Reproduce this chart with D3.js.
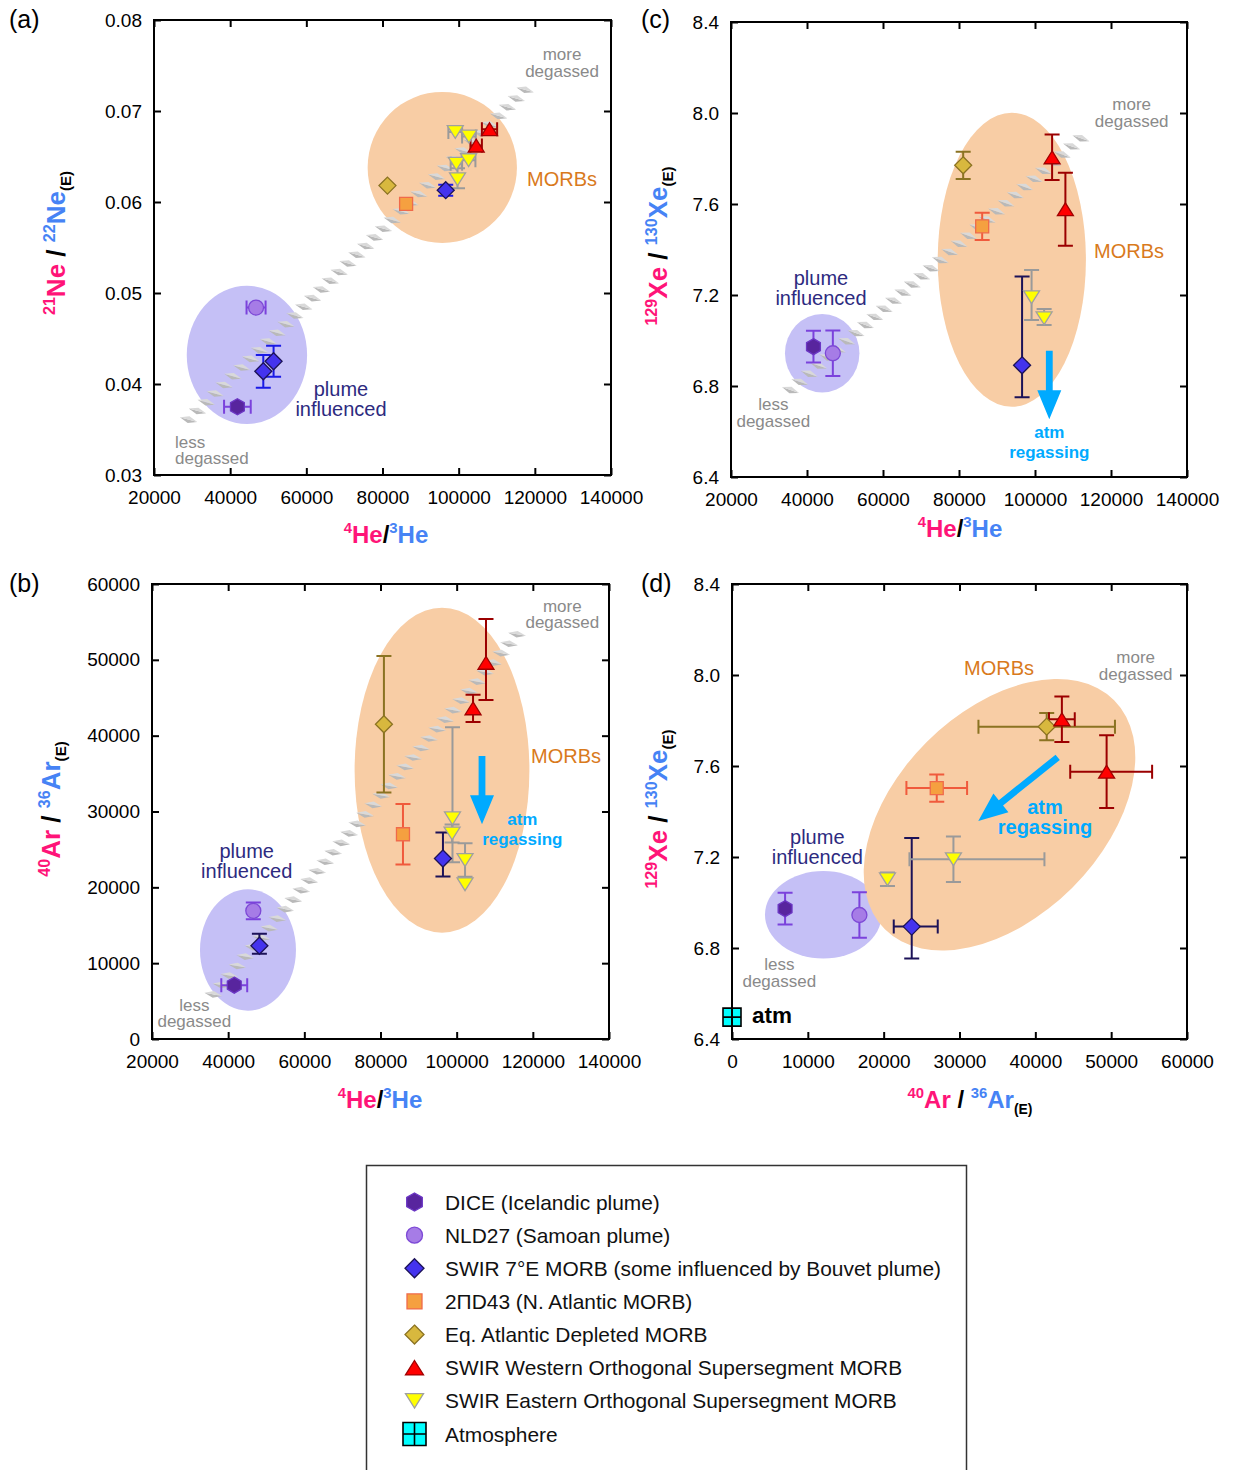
<!DOCTYPE html>
<html>
<head>
<meta charset="utf-8">
<script src="https://cdn.jsdelivr.net/npm/d3@7"></script>
<style>
  body { margin: 0; background: #fff; }
  svg { display: block; font-family: 'Liberation Sans', Arial, Helvetica, sans-serif; }
</style>
</head>
<body>
<svg id="chart" width="1233" height="1470"></svg>
<script>
// ---- tick values ----
const heTicks = [20000, 40000, 60000, 80000, 100000, 120000, 140000];
const neTicks = [0.03, 0.04, 0.05, 0.06, 0.07, 0.08];
const arTicks = [0, 10000, 20000, 30000, 40000, 50000, 60000];
const xeTicks = [6.4, 6.8, 7.2, 7.6, 8.0, 8.4];

// ---- series (index used in the point arrays) ----
const seriesNames = [
  'DICE (Icelandic plume)',
  'NLD27 (Samoan plume)',
  'SWIR 7°E MORB (some influenced by Bouvet plume)',
  '2ΠD43 (N. Atlantic MORB)',
  'Eq. Atlantic Depleted MORB',
  'SWIR Western Orthogonal Supersegment MORB',
  'SWIR Eastern Orthogonal Supersegment MORB',
  'Atmosphere'
];

// ---- points: s = series, ex/ey = [minus, plus] errors ----
// (a) 21Ne/22Ne(E) vs 4He/3He
const neVsHe = [
  {s: 0, x: 41900, y: 0.0375, ex: [3500, 3500]},
  {s: 1, x: 46800, y: 0.0484, ex: [2500, 2500]},
  {s: 2, x: 48700, y: 0.0414, ey: [0.0018, 0.0018]},
  {s: 2, x: 51400, y: 0.0425, ey: [0.0017, 0.0017]},
  {s: 2, x: 96600, y: 0.0613, ey: [0.0006, 0.0006]},
  {s: 3, x: 86200, y: 0.0598},
  {s: 4, x: 81300, y: 0.0618},
  {s: 5, x: 108100, y: 0.0680, ex: [2000, 2000]},
  {s: 5, x: 104600, y: 0.0662, ex: [1500, 1500]},
  {s: 6, x: 99100, y: 0.0677, ex: [1800, 1800]},
  {s: 6, x: 102700, y: 0.0672, ex: [1800, 1800]},
  {s: 6, x: 99400, y: 0.0642, ex: [1500, 1500]},
  {s: 6, x: 102600, y: 0.0646, ex: [1800, 1800]},
  {s: 6, x: 99700, y: 0.0625, ey: [0.0010, 0.0012]}
];
// (c) 129Xe/130Xe(E) vs 4He/3He
const xeVsHe = [
  {s: 0, x: 41700, y: 6.973, ey: [0.07, 0.07]},
  {s: 1, x: 46800, y: 6.944, ey: [0.10, 0.10]},
  {s: 2, x: 96600, y: 6.891, ey: [0.14, 0.39]},
  {s: 4, x: 81100, y: 7.770, ey: [0.06, 0.06]},
  {s: 3, x: 86100, y: 7.502, ey: [0.06, 0.06]},
  {s: 5, x: 104500, y: 7.805, ey: [0.10, 0.10]},
  {s: 5, x: 108000, y: 7.577, ey: [0.16, 0.16]},
  {s: 6, x: 99100, y: 7.19, ey: [0.10, 0.12]},
  {s: 6, x: 102400, y: 7.098, ey: [0.03, 0.04]}
];
// (b) 40Ar/36Ar(E) vs 4He/3He
const arVsHe = [
  {s: 0, x: 41600, y: 7100, ex: [3400, 3400]},
  {s: 1, x: 46600, y: 16900, ey: [1100, 1100]},
  {s: 2, x: 48200, y: 12300, ey: [1050, 1580]},
  {s: 2, x: 96400, y: 23800, ey: [2370, 3430]},
  {s: 4, x: 80900, y: 41500, ey: [9000, 9000]},
  {s: 3, x: 85900, y: 27000, ey: [4000, 4000]},
  {s: 5, x: 107700, y: 49600, ey: [4900, 5800]},
  {s: 5, x: 104300, y: 43600, ey: [1800, 1800]},
  {s: 6, x: 98900, y: 29100, ey: [5800, 12000]},
  {s: 6, x: 98800, y: 27100, ey: [1200, 1200]},
  {s: 6, x: 102200, y: 23600, ey: [2200, 2200]},
  {s: 6, x: 102200, y: 20400}
];
// (d) 129Xe/130Xe(E) vs 40Ar/36Ar(E)
const xeVsAr = [
  {s: 0, x: 7000, y: 6.973, ey: [0.07, 0.07]},
  {s: 1, x: 16800, y: 6.945, ey: [0.10, 0.10]},
  {s: 2, x: 23700, y: 6.894, ex: [2370, 3430], ey: [0.14, 0.39]},
  {s: 4, x: 41500, y: 7.773, ex: [9000, 9000], ey: [0.06, 0.06]},
  {s: 3, x: 27000, y: 7.503, ex: [4000, 4000], ey: [0.06, 0.06]},
  {s: 5, x: 43500, y: 7.805, ex: [1700, 1700], ey: [0.10, 0.10]},
  {s: 5, x: 49400, y: 7.575, ex: [4800, 6000], ey: [0.16, 0.16]},
  {s: 6, x: 29200, y: 7.19, ex: [5800, 12000], ey: [0.10, 0.10]},
  {s: 6, x: 20500, y: 7.102, ey: [0.03, 0.03]},
  {s: 7, x: 0, y: 6.496}
];

// ---- shaded groups (data units) ----
const neRegions = [
  {kind: 'plume', cx: 44400, cy: 0.0432, rx: 15800, ry: 0.0076},
  {kind: 'morb', cx: 95700, cy: 0.0638, rx: 19600, ry: 0.0083}
];
const xeHeRegions = [
  {kind: 'plume', cx: 44000, cy: 6.944, rx: 9800, ry: 0.173},
  {kind: 'morb', cx: 93900, cy: 7.355, rx: 19500, ry: 0.646}
];
const arHeRegions = [
  {kind: 'plume', cx: 45200, cy: 11740, rx: 12600, ry: 8000},
  {kind: 'morb', cx: 96150, cy: 35450, rx: 22950, ry: 21430}
];
const xeArRegions = [
  {kind: 'plume', cx: 12040, cy: 6.946, rx: 7690, ry: 0.192},
  {kind: 'morb', axis: [[20160, 6.882], [50390, 7.889]]}
];

// ---- degassing trends (data units) ----
const neHeTrend = [[28150, 0.0357], [118850, 0.0729]];
const xeHeTrend = [[34660, 6.768], [113600, 7.911]];
const arHeTrend = [[35250, 5370], [117180, 54160]];

// ---- colours / styles ----
const PINK = '#ff1478', BLUE = '#4683f5';
const seriesStyle = [
  {shape: 'hex', fill: '#58259e', stroke: '#6b36c4', bar: '#7b42dc'},
  {shape: 'circle', fill: '#a67ce6', stroke: '#7d49d6', bar: '#7b42dc'},
  {shape: 'diamond', fill: '#4433ee', stroke: '#1c1258', bar: '#1c1258'},
  {shape: 'square', fill: '#f5a040', stroke: '#f06a4a', bar: '#f05a3c'},
  {shape: 'diamond', fill: '#d8b83e', stroke: '#8b7322', bar: '#8b7322'},
  {shape: 'triUp', fill: '#ff0000', stroke: '#a00000', bar: '#9b0000'},
  {shape: 'triDown', fill: '#ffff00', stroke: '#a0a0a0', bar: '#9a9a9a'},
  {shape: 'atm', fill: '#00ffff', stroke: '#000000', bar: '#000000'}
];
const regionFill = {plume: '#c5c0f6', morb: '#f8cda5'};
const noteStyle = {
  morb: {fill: '#d97a1c', size: 20, weight: 'normal', lh: 19.5},
  plume: {fill: '#2d2a80', size: 20, weight: 'normal', lh: 19.5},
  gray: {fill: '#8a8a8a', size: 17, weight: 'normal', lh: 16.7},
  atm: {fill: '#00aaff', size: 17, weight: 'bold', lh: 20},
  atmBig: {fill: '#00aaff', size: 20, weight: 'bold', lh: 20},
  black: {fill: '#000', size: 22.5, weight: 'bold', lh: 20}
};

// axis titles
const heTitle = [{t: '4', sup: 1, c: PINK}, {t: 'He', c: PINK}, {t: '/', c: '#000'}, {t: '3', sup: 1, c: BLUE}, {t: 'He', c: BLUE}];
const neTitle = [{t: '21', sup: 1, c: PINK}, {t: 'Ne', c: PINK}, {t: ' / ', c: '#000'}, {t: '22', sup: 1, c: BLUE}, {t: 'Ne', c: BLUE}, {t: '(E)', sub: 1, c: '#000'}];
const xeTitle = [{t: '129', sup: 1, c: PINK}, {t: 'Xe', c: PINK}, {t: ' / ', c: '#000'}, {t: '130', sup: 1, c: BLUE}, {t: 'Xe', c: BLUE}, {t: '(E)', sub: 1, c: '#000'}];
const arTitle = [{t: '40', sup: 1, c: PINK}, {t: 'Ar', c: PINK}, {t: ' / ', c: '#000'}, {t: '36', sup: 1, c: BLUE}, {t: 'Ar', c: BLUE}, {t: '(E)', sub: 1, c: '#000'}];

const panels = [
  {tag: '(a)', tagPos: [9, 28], left: 154, top: 20, w: 457, h: 455,
   xDom: [20000, 140000], yDom: [0.03, 0.08], xTicks: heTicks, yTicks: neTicks, yFmt: d3.format('.2f'),
   points: neVsHe, regions: neRegions, trend: neHeTrend, barOverride: {2: '#1a1ae6'},
   xTitle: heTitle, xTitlePos: [386, 543], yTitle: neTitle, yTitlePos: [65, 243],
   notes: [
     {lines: ['MORBs'], x: 373, y: 166, kind: 'morb', anchor: 'start'},
     {lines: ['plume', 'influenced'], x: 187, y: 376, kind: 'plume', anchor: 'middle'},
     {lines: ['less', 'degassed'], x: 21, y: 427.5, kind: 'gray', anchor: 'start'},
     {lines: ['more', 'degassed'], x: 408, y: 40, kind: 'gray', anchor: 'middle'}
   ]},
  {tag: '(c)', tagPos: [641, 28], left: 731, top: 22, w: 456, h: 455,
   xDom: [20000, 140000], yDom: [6.4, 8.4], xTicks: heTicks, yTicks: xeTicks, yFmt: d3.format('.1f'),
   points: xeVsHe, regions: xeHeRegions, trend: xeHeTrend,
   xTitle: heTitle, xTitlePos: [960, 537], yTitle: xeTitle, yTitlePos: [667, 246],
   arrow: [[318.3, 328.7], [318.3, 397.3]],
   notes: [
     {lines: ['MORBs'], x: 363, y: 236.3, kind: 'morb', anchor: 'start'},
     {lines: ['plume', 'influenced'], x: 90, y: 263, kind: 'plume', anchor: 'middle'},
     {lines: ['less', 'degassed'], x: 42.3, y: 388, kind: 'gray', anchor: 'middle'},
     {lines: ['more', 'degassed'], x: 400.7, y: 88, kind: 'gray', anchor: 'middle'},
     {lines: ['atm', 'regassing'], x: 318.3, y: 416.3, kind: 'atm', anchor: 'middle'}
   ]},
  {tag: '(b)', tagPos: [9, 592], left: 152, top: 584, w: 457, h: 455,
   xDom: [20000, 140000], yDom: [0, 60000], xTicks: heTicks, yTicks: arTicks, yFmt: d3.format('d'),
   points: arVsHe, regions: arHeRegions, trend: arHeTrend,
   xTitle: heTitle, xTitlePos: [380, 1108], yTitle: arTitle, yTitlePos: [60, 809],
   arrow: [[330, 172], [330, 240.3]],
   notes: [
     {lines: ['MORBs'], x: 379, y: 178.7, kind: 'morb', anchor: 'start'},
     {lines: ['plume', 'influenced'], x: 94.7, y: 274.3, kind: 'plume', anchor: 'middle'},
     {lines: ['less', 'degassed'], x: 42.3, y: 426.7, kind: 'gray', anchor: 'middle'},
     {lines: ['more', 'degassed'], x: 410.3, y: 27.7, kind: 'gray', anchor: 'middle'},
     {lines: ['atm', 'regassing'], x: 370.3, y: 241, kind: 'atm', anchor: 'middle'}
   ]},
  {tag: '(d)', tagPos: [641, 592], left: 732, top: 584, w: 455, h: 455,
   xDom: [0, 60000], yDom: [6.4, 8.4], xTicks: arTicks, yTicks: xeTicks, yFmt: d3.format('.1f'),
   points: xeVsAr, regions: xeArRegions, trend: null,
   xTitle: arTitle, xTitlePos: [970, 1108], yTitle: xeTitle, yTitlePos: [667, 809],
   arrow: [[325.7, 173.3], [246.3, 237]],
   notes: [
     {lines: ['MORBs'], x: 267, y: 91, kind: 'morb', anchor: 'middle'},
     {lines: ['plume', 'influenced'], x: 85.3, y: 260, kind: 'plume', anchor: 'middle'},
     {lines: ['less', 'degassed'], x: 47.3, y: 386, kind: 'gray', anchor: 'middle'},
     {lines: ['more', 'degassed'], x: 403.7, y: 79.3, kind: 'gray', anchor: 'middle'},
     {lines: ['atm', 'regassing'], x: 313, y: 230, kind: 'atmBig', anchor: 'middle'},
     {lines: ['atm'], x: 20, y: 439.3, kind: 'black', anchor: 'start'}
   ]}
];

const svg = d3.select('#chart');

// marker path, centred at 0,0
function markerPath(shape, r) {
  if (shape === 'hex') {
    const pts = d3.range(6).map((k) => {
      const a = (-90 + 60 * k) * Math.PI / 180;
      return [r * Math.cos(a), r * Math.sin(a)];
    });
    return 'M' + pts.join('L') + 'Z';
  }
  if (shape === 'circle') return `M${-r},0a${r},${r} 0 1,0 ${2 * r},0a${r},${r} 0 1,0 ${-2 * r},0Z`;
  if (shape === 'diamond') return `M0,${-r}L${r},0L0,${r}L${-r},0Z`;
  if (shape === 'square' || shape === 'atm') return `M${-r},${-r}h${2 * r}v${2 * r}h${-2 * r}Z`;
  const hw = r, hh = r * 0.8;
  if (shape === 'triUp') return `M0,${-hh}L${hw},${hh}L${-hw},${hh}Z`;
  return `M0,${hh}L${hw},${-hh}L${-hw},${-hh}Z`;
}

const plotSize = {hex: 8, circle: 7.5, diamond: 8.5, square: 6.5, triUp: 8, triDown: 8, atm: 9};
const legendSize = {hex: 9, circle: 8, diamond: 9.5, square: 7.5, triUp: 9, triDown: 9, atm: 11.5};

function drawMarker(g, s, x, y, sizes) {
  const st = seriesStyle[s];
  const r = sizes[st.shape];
  const m = g.append('g').attr('transform', `translate(${x},${y})`);
  m.append('path')
    .attr('d', markerPath(st.shape, r))
    .attr('fill', st.fill)
    .attr('stroke', st.stroke)
    .attr('stroke-width', st.shape === 'atm' ? 1.6 : 1.3);
  if (st.shape === 'atm') {
    m.append('path').attr('d', `M${-r},0H${r}M0,${-r}V${r}`).attr('stroke', '#000').attr('stroke-width', 1.6);
  }
}

function richText(g, parts, size, x, y, rotate) {
  const t = g.append('text')
    .attr('x', x).attr('y', y)
    .attr('text-anchor', 'middle')
    .attr('font-weight', 'bold')
    .attr('font-size', size)
    .style('white-space', 'pre');
  if (rotate) t.attr('transform', `rotate(-90,${x},${y})`);
  let cur = 0;
  parts.forEach((p) => {
    const target = p.sup ? -0.4 * size : p.sub ? 0.24 * size : 0;
    t.append('tspan')
      .attr('dy', target - cur)
      .attr('font-size', p.sup ? size * 0.62 : p.sub ? size * 0.58 : size)
      .attr('fill', p.c)
      .text(p.t);
    cur = target;
  });
}

function arrow(g, p0, p1) {
  const dx = p1[0] - p0[0], dy = p1[1] - p0[1];
  const L = Math.hypot(dx, dy), ux = dx / L, uy = dy / L, nx = -uy, ny = ux;
  const sw = 3.4, hw = 12, hl = 29;
  const bx = p1[0] - ux * hl, by = p1[1] - uy * hl;
  const pts = [
    [p0[0] + nx * sw, p0[1] + ny * sw],
    [bx + nx * sw, by + ny * sw],
    [bx + nx * hw, by + ny * hw],
    p1,
    [bx - nx * hw, by - ny * hw],
    [bx - nx * sw, by - ny * sw],
    [p0[0] - nx * sw, p0[1] - ny * sw]
  ];
  g.append('path').attr('d', 'M' + pts.join('L') + 'Z').attr('fill', '#00aaff');
}

function trendBand(g, p0, p1) {
  const dx = p1[0] - p0[0], dy = p1[1] - p0[1];
  const L = Math.hypot(dx, dy), ux = dx / L, uy = dy / L, nx = -uy, ny = ux;
  const ang = 30 * Math.PI / 180;
  const ax = nx * Math.cos(ang) + ux * Math.sin(ang), ay = ny * Math.cos(ang) + uy * Math.sin(ang);
  const bx = -ay, by = ax;
  for (let t = 5; t < L - 3; t += 12.4) {
    const cx = p0[0] + ux * t, cy = p0[1] + uy * t;
    const top = [cx + ax * 9, cy + ay * 9], bot = [cx - ax * 9, cy - ay * 9];
    const s1 = [cx + bx * 3.4, cy + by * 3.4], s2 = [cx - bx * 3.4, cy - by * 3.4];
    g.append('path').attr('d', `M${top}L${s1}L${bot}Z`).attr('fill', '#b9b9b9');
    g.append('path').attr('d', `M${top}L${s2}L${bot}Z`).attr('fill', '#d9d9d9');
  }
}

panels.forEach((p) => {
  const g = svg.append('g').attr('transform', `translate(${p.left},${p.top})`);
  const x = d3.scaleLinear().domain(p.xDom).range([0, p.w]);
  const y = d3.scaleLinear().domain(p.yDom).range([p.h, 0]);

  // shaded groups
  p.regions.forEach((r) => {
    if (r.axis) {
      const a0 = [x(r.axis[0][0]), y(r.axis[0][1])], a1 = [x(r.axis[1][0]), y(r.axis[1][1])];
      const cx = (a0[0] + a1[0]) / 2, cy = (a0[1] + a1[1]) / 2;
      const half = Math.hypot(a1[0] - a0[0], a1[1] - a0[1]) / 2;
      const rot = Math.atan2(a1[1] - a0[1], a1[0] - a0[0]) * 180 / Math.PI;
      g.append('ellipse')
        .attr('transform', `translate(${cx},${cy}) rotate(${rot})`)
        .attr('rx', half).attr('ry', 103)
        .attr('fill', regionFill[r.kind]);
    } else {
      g.append('ellipse')
        .attr('cx', x(r.cx)).attr('cy', y(r.cy))
        .attr('rx', x(r.cx + r.rx) - x(r.cx))
        .attr('ry', y(r.cy) - y(r.cy + r.ry))
        .attr('fill', regionFill[r.kind]);
    }
  });

  if (p.trend) {
    trendBand(g, [x(p.trend[0][0]), y(p.trend[0][1])], [x(p.trend[1][0]), y(p.trend[1][1])]);
  }

  // error bars
  p.points.forEach((d) => {
    const col = (p.barOverride && p.barOverride[d.s]) || seriesStyle[d.s].bar;
    const px = x(d.x), py = y(d.y);
    const eg = g.append('g').attr('stroke', col).attr('stroke-width', 2).attr('fill', 'none');
    if (d.ex) {
      const x0 = x(d.x - d.ex[0]), x1 = x(d.x + d.ex[1]);
      eg.append('path').attr('d', `M${x0},${py}H${x1}M${x0},${py - 7}V${py + 7}M${x1},${py - 7}V${py + 7}`);
    }
    if (d.ey) {
      const y0 = y(d.y - d.ey[0]), y1 = y(d.y + d.ey[1]);
      eg.append('path').attr('d', `M${px},${y0}V${y1}M${px - 7.5},${y0}H${px + 7.5}M${px - 7.5},${y1}H${px + 7.5}`);
    }
  });

  // markers
  p.points.forEach((d) => drawMarker(g, d.s, x(d.x), y(d.y), plotSize));

  // frame and ticks (inward on all sides)
  g.append('g').attr('transform', `translate(0,${p.h})`)
    .call(d3.axisBottom(x).tickValues(p.xTicks).tickSize(-7).tickPadding(16).tickFormat(d3.format('d')))
    .call((a) => a.select('.domain').remove())
    .attr('font-size', 19).attr('font-family', null);
  g.append('g')
    .call(d3.axisLeft(y).tickValues(p.yTicks).tickSize(-7).tickPadding(12).tickFormat(p.yFmt))
    .call((a) => a.select('.domain').remove())
    .attr('font-size', 19).attr('font-family', null);
  g.append('g')
    .call(d3.axisTop(x).tickValues(p.xTicks).tickSize(-7).tickFormat(''))
    .call((a) => a.select('.domain').remove());
  g.append('g').attr('transform', `translate(${p.w},0)`)
    .call(d3.axisRight(y).tickValues(p.yTicks).tickSize(-7).tickFormat(''))
    .call((a) => a.select('.domain').remove());
  g.selectAll('.tick line').attr('stroke-width', 2);
  g.selectAll('.tick text').attr('fill', '#000');
  g.append('rect').attr('width', p.w).attr('height', p.h)
    .attr('fill', 'none').attr('stroke', '#000').attr('stroke-width', 2);

  // annotations
  p.notes.forEach((n) => {
    const st = noteStyle[n.kind];
    const t = g.append('text')
      .attr('text-anchor', n.anchor)
      .attr('fill', st.fill)
      .attr('font-size', st.size)
      .attr('font-weight', st.weight);
    n.lines.forEach((line, i) => {
      t.append('tspan').attr('x', n.x).attr('y', n.y + i * st.lh).text(line);
    });
  });
  if (p.arrow) arrow(g, p.arrow[0], p.arrow[1]);

  // titles
  richText(svg, p.xTitle, 24, p.xTitlePos[0], p.xTitlePos[1], false);
  richText(svg, p.yTitle, 26, p.yTitlePos[0], p.yTitlePos[1], true);
  svg.append('text').attr('x', p.tagPos[0]).attr('y', p.tagPos[1])
    .attr('font-size', 25).text(p.tag);
});

// legend
const legend = svg.append('g');
legend.append('rect')
  .attr('x', 366.5).attr('y', 1165.5).attr('width', 600).attr('height', 400)
  .attr('fill', 'none').attr('stroke', '#333').attr('stroke-width', 1.5);
const rowY = d3.scaleLinear().domain([0, 7]).range([1202, 1434]);
seriesNames.forEach((name, i) => {
  drawMarker(legend, i, 414.5, rowY(i), legendSize);
  legend.append('text')
    .attr('x', 445).attr('y', rowY(i) + 7.5)
    .attr('font-size', 20.9).attr('fill', '#111')
    .text(name);
});
</script>
</body>
</html>
